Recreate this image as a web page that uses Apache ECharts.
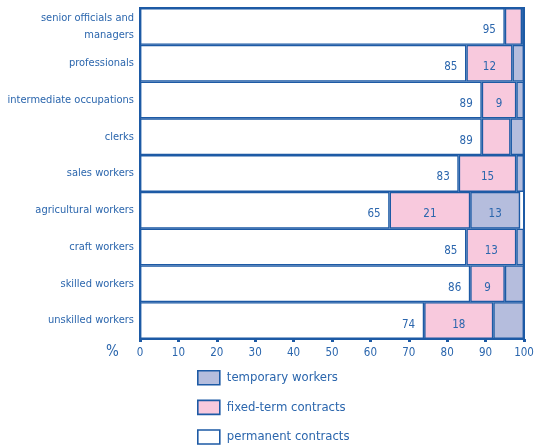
<!DOCTYPE html>
<html>
<head>
<meta charset="utf-8">
<style>
  html, body { margin: 0; padding: 0; background: #ffffff; }
  #chart { width: 535px; height: 448px; }
</style>
<script src="https://cdn.jsdelivr.net/npm/echarts@6/dist/echarts.min.js"></script>
</head>
<body>
<div id="chart"></div>
<script>
// Occupational groups, top to bottom
const categories = [
  'senior officials and\nmanagers',
  'professionals',
  'intermediate occupations',
  'clerks',
  'sales workers',
  'agricultural workers',
  'craft workers',
  'skilled workers',
  'unskilled workers'
];

// Share of employees by contract type (%)
const permanent = [95, 85, 89, 89, 83, 65, 85, 86, 74];
const fixedTerm = [4.5, 12, 9, 7.5, 15, 21, 13, 9, 18];
const temporary = [0.5, 3, 2, 3.5, 2, 13, 2, 5, 8];

// Which segments carry a value label
const fixedLabelled = [false, true, true, false, true, true, true, true, true];
const tempLabelled = [false, false, false, false, false, true, false, false, false];

const xTicks = [0, 10, 20, 30, 40, 50, 60, 70, 80, 90, 100];

const BLUE = '#1d5aa5';
const TEXT = '#2b66ad';
const FONT = "'DejaVu Sans Condensed', 'Liberation Sans Narrow', sans-serif";

const segBorder = { borderColor: BLUE, borderWidth: 1.4 };

function withLabels(values, flags, cfg) {
  return values.map((v, i) => ({
    value: v,
    label: Object.assign({ show: flags ? flags[i] : true }, cfg)
  }));
}

const chart = echarts.init(document.getElementById('chart'), null, { renderer: 'canvas' });

chart.setOption({
  animation: false,
  textStyle: { fontFamily: FONT },
  grid: {
    left: 140, right: 11, top: 8, bottom: 109,
    outerBoundsMode: 'none',
    containLabel: false,
    show: true, borderColor: BLUE, borderWidth: 2, backgroundColor: 'transparent'
  },
  xAxis: {
    type: 'value',
    min: 0, max: 100, interval: 10,
    axisLine: { show: true, lineStyle: { color: BLUE, width: 2 } },
    axisTick: { show: true, length: 3, lineStyle: { color: BLUE, width: 3 } },
    splitLine: { show: false },
    axisLabel: {
      color: TEXT, fontSize: 11.5, fontFamily: FONT, margin: 8,
      formatter: v => xTicks.includes(v) ? String(v) : ''
    }
  },
  yAxis: {
    type: 'category',
    data: categories,
    inverse: true,
    axisLine: { show: true, lineStyle: { color: BLUE, width: 2 } },
    axisTick: { show: false },
    axisLabel: { color: TEXT, fontSize: 11, fontFamily: FONT, margin: 6, lineHeight: 17, align: 'right' }
  },
  legend: {
    orient: 'vertical',
    left: 192, top: 365, height: 82,
    icon: 'rect',
    itemWidth: 22, itemHeight: 14, itemGap: 14,
    data: ['temporary workers', 'fixed-term contracts', 'permanent contracts'],
    textStyle: { color: TEXT, fontSize: 13, fontFamily: FONT, lineHeight: 14, padding: [0, 0, 0, 2] },
    itemStyle: { borderColor: BLUE, borderWidth: 1.6 }
  },
  graphic: [{
    type: 'text', left: 106, top: 345,
    style: { text: '%', fill: TEXT, font: "15px " + FONT }
  }],
  series: [
    {
      name: 'permanent contracts', type: 'bar', stack: 'all', barWidth: '100%',
      itemStyle: Object.assign({ color: '#ffffff' }, segBorder),
      data: withLabels(permanent, null, {
        position: 'insideRight', distance: 9, offset: [0, 4],
        color: TEXT, fontSize: 11.5, fontFamily: FONT
      })
    },
    {
      name: 'fixed-term contracts', type: 'bar', stack: 'all', barWidth: '100%',
      itemStyle: Object.assign({ color: '#f8c9dd' }, segBorder),
      data: withLabels(fixedTerm, fixedLabelled, {
        position: 'inside', offset: [0, 4], color: TEXT, fontSize: 11.5, fontFamily: FONT
      })
    },
    {
      name: 'temporary workers', type: 'bar', stack: 'all', barWidth: '100%',
      itemStyle: Object.assign({ color: '#b5bddd' }, segBorder),
      data: withLabels(temporary, tempLabelled, {
        position: 'inside', offset: [0, 4], color: TEXT, fontSize: 11.5, fontFamily: FONT
      })
    }
  ]
});
</script>
</body>
</html>
